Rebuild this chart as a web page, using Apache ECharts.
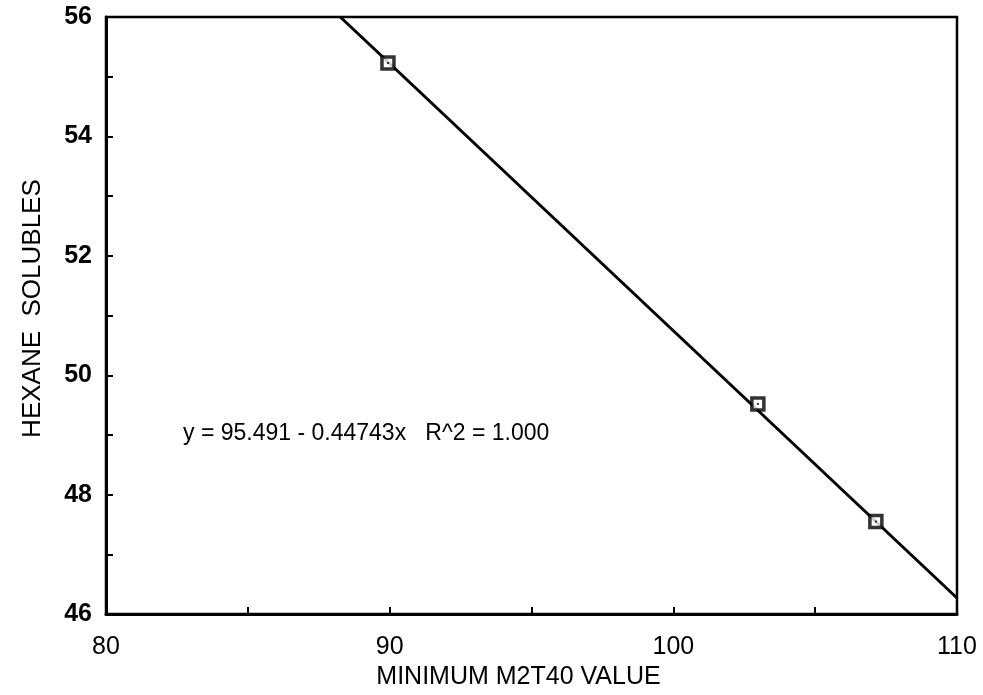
<!DOCTYPE html>
<html>
<head>
<meta charset="utf-8">
<script src="https://cdn.jsdelivr.net/npm/echarts@6/dist/echarts.min.js"></script>
<style>
html,body{margin:0;padding:0;background:#fff;}
#c{width:983px;height:695px;}
</style>
</head>
<body>
<div id="c"></div>
<script>
// Observed data points (Minimum M2T40 value, Hexane solubles)
var pointX = [89.94, 102.98, 107.14];
var pointY = [55.23, 49.52, 47.55];
// Fitted line endpoints as drawn
var lineX = [88.26, 110];
var lineY = [56.0, 46.27];
var xTickLabels = [80, 90, 100, 110];
var yTickLabels = [46, 48, 50, 52, 54, 56];
var equationText = 'y = 95.491 - 0.44743x   R^2 = 1.000';
var xTitle = 'MINIMUM M2T40 VALUE';
var yTitle = 'HEXANE  SOLUBLES';

var points = pointX.map(function (x, i) { return [x, pointY[i]]; });
var fitLine = lineX.map(function (x, i) { return [x, lineY[i]]; });

var chart = echarts.init(document.getElementById('c'));
var font = 'Liberation Sans, Arial, Helvetica, sans-serif';
chart.setOption({
  backgroundColor: '#fff',
  animation: false,
  grid: {
    left: 106, right: 26, top: 17, bottom: 79,
    show: true, borderColor: '#000', borderWidth: 2.5, backgroundColor: 'transparent'
  },
  xAxis: {
    type: 'value', min: 80, max: 110, interval: 5,
    name: xTitle, nameLocation: 'middle', nameGap: 50,
    nameTextStyle: { fontFamily: font, fontSize: 25, color: '#000', padding: [0, 26, 0, 0] },
    axisLine: { show: true, lineStyle: { color: '#000', width: 3 } },
    axisTick: { show: true, inside: true, length: 7, lineStyle: { color: '#000', width: 2 } },
    axisLabel: {
      fontFamily: font, fontSize: 25, color: '#000', margin: 21,
      formatter: function (v) { return xTickLabels.indexOf(v) >= 0 ? String(v) : ''; }
    },
    splitLine: { show: false }
  },
  yAxis: {
    type: 'value', min: 46, max: 56, interval: 1,
    name: yTitle, nameLocation: 'middle', nameGap: 60,
    nameTextStyle: { fontFamily: font, fontSize: 26, color: '#000', padding: [0, 0, 0, 14] },
    axisLine: { show: true, lineStyle: { color: '#000', width: 3 } },
    axisTick: { show: true, inside: true, length: 7, lineStyle: { color: '#000', width: 2 } },
    axisLabel: {
      fontFamily: font, fontSize: 25, fontWeight: 'bold', color: '#000', margin: 14,
      padding: [6, 0, 0, 0],
      formatter: function (v) { return yTickLabels.indexOf(v) >= 0 ? String(v) : ''; }
    },
    splitLine: { show: false }
  },
  series: [
    {
      type: 'line', data: fitLine, showSymbol: false, symbol: 'none',
      lineStyle: { color: '#000', width: 3 }, clip: true, z: 2
    },
    {
      type: 'scatter', data: points, symbol: 'rect', symbolSize: 12,
      itemStyle: { color: '#fff', borderColor: '#000', borderWidth: 3.5 }, z: 3
    },
    {
      type: 'scatter', data: points, symbol: 'rect', symbolSize: 2,
      itemStyle: { color: '#000' }, z: 4, silent: true
    }
  ],
  graphic: [
    {
      type: 'text', left: 183, top: 422,
      style: { text: equationText, fontFamily: font, fontSize: 23, fill: '#000' }
    }
  ]
});
</script>
</body>
</html>
